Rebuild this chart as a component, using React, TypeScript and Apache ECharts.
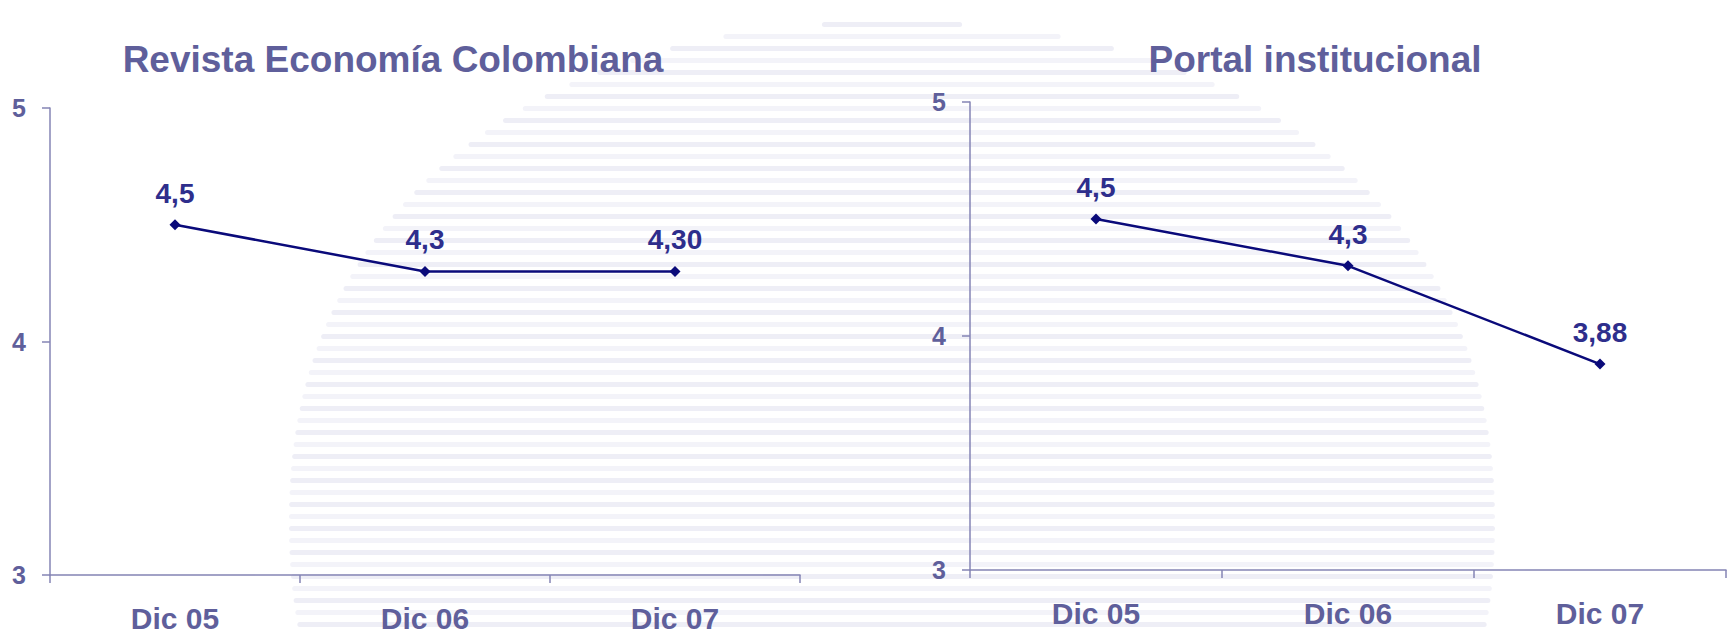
import React, { useEffect, useRef } from "react";
import * as echarts from "echarts";

const categories = ["Dic 05", "Dic 06", "Dic 07"];
const revistaTitle = "Revista Economía Colombiana";
const revistaValues = [4.5, 4.3, 4.3];
const revistaLabels = ["4,5", "4,3", "4,30"];
const portalTitle = "Portal institucional";
const portalValues = [4.5, 4.3, 3.88];
const portalLabels = ["4,5", "4,3", "3,88"];
const yMin = 3;
const yMax = 5;
const yStep = 1;

const FONT = "'Liberation Sans', Arial, sans-serif";
const LABEL_COLOR = "#5f5f9b";
const DATA_COLOR = "#2e2e8c";
const LINE_COLOR = "#0a0a7a";
const AXIS_COLOR = "#8484b4";

// faint striped globe watermark in the background
function stripes() {
  const out: any[] = [];
  const cx = 892, cy = 520, rx = 603, ry = 500, n = 2.2;
  let i = 0;
  for (let y = 22; y < 634; y += 12, i++) {
    const t = Math.abs(y - cy) / ry;
    if (t >= 1) continue;
    const hw = rx * Math.pow(1 - Math.pow(t, n), 1 / n);
    out.push({
      type: "rect",
      silent: true,
      z: -100,
      shape: { x: cx - hw, y, width: 2 * hw, height: 5, r: 2.5 },
      style: { fill: i % 2 === 0 ? "#eeeef6" : "#f3f3f9" },
    });
  }
  return out;
}

export default function App() {
  const ref = useRef<HTMLDivElement>(null);
  useEffect(() => {
    if (!ref.current) return;
    const chart = echarts.init(ref.current, null, { renderer: "svg" });
    const yAxisBase = (gridIndex: number) => ({
      type: "value",
      gridIndex,
      min: yMin,
      max: yMax,
      interval: yStep,
      axisLine: { show: true, lineStyle: { color: AXIS_COLOR, width: 1.5 } },
      axisTick: { show: true, length: 8, lineStyle: { color: AXIS_COLOR, width: 1.5 } },
      splitLine: { show: false },
      axisLabel: {
        color: LABEL_COLOR,
        fontFamily: FONT,
        fontWeight: "bold",
        fontSize: 25,
        margin: 24,
      },
    });
    const xAxisBase = (gridIndex: number) => ({
      type: "category",
      gridIndex,
      data: categories,
      boundaryGap: true,
      axisLine: { show: true, lineStyle: { color: AXIS_COLOR, width: 1.5 } },
      axisTick: { show: true, length: 8, alignWithLabel: false, lineStyle: { color: AXIS_COLOR, width: 1.5 } },
      axisLabel: {
        color: LABEL_COLOR,
        fontFamily: FONT,
        fontWeight: "bold",
        fontSize: 30,
        margin: 28,
      },
    });
    const seriesBase = (idx: number, values: number[], labels: string[]) => ({
      type: "line",
      xAxisIndex: idx,
      yAxisIndex: idx,
      data: values,
      symbol: "diamond",
      symbolSize: 11,
      lineStyle: { color: LINE_COLOR, width: 2.5 },
      itemStyle: { color: LINE_COLOR },
      label: {
        show: true,
        position: "top",
        distance: 12,
        color: DATA_COLOR,
        fontFamily: FONT,
        fontWeight: "bold",
        fontSize: 28,
        formatter: (p: any) => labels[p.dataIndex],
      },
    });
    chart.setOption({
      animation: false,
      backgroundColor: "#ffffff",
      title: [
        {
          text: revistaTitle,
          left: 388,
          top: 36,
          textAlign: "center",
          textStyle: { color: LABEL_COLOR, fontFamily: FONT, fontWeight: "bold", fontSize: 37 },
        },
        {
          text: portalTitle,
          left: 1310,
          top: 36,
          textAlign: "center",
          textStyle: { color: LABEL_COLOR, fontFamily: FONT, fontWeight: "bold", fontSize: 37 },
        },
      ],
      graphic: stripes(),
      grid: [
        { left: 50, top: 108, width: 750, height: 467 },
        { left: 970, top: 102, width: 756, height: 468 },
      ],
      xAxis: [xAxisBase(0), xAxisBase(1)],
      yAxis: [yAxisBase(0), yAxisBase(1)],
      series: [
        seriesBase(0, revistaValues, revistaLabels),
        seriesBase(1, portalValues, portalLabels),
      ],
    });
    return () => chart.dispose();
  }, []);
  return (
    <div
      ref={ref}
      style={{ position: "absolute", left: 0, top: 0, width: 1729, height: 634 }}
    />
  );
}
